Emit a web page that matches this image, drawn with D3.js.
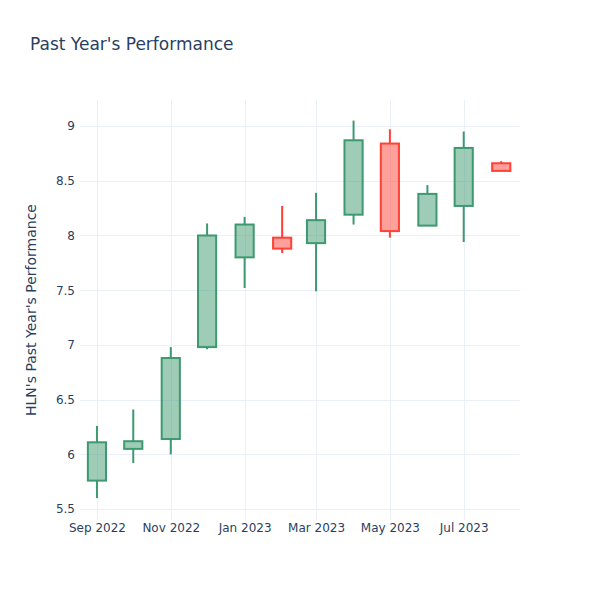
<!DOCTYPE html>
<html><head><meta charset="utf-8">
<script src="https://cdn.jsdelivr.net/npm/d3@7"></script>
<style>body{margin:0;background:#fff;}svg{font-family:"DejaVu Sans",sans-serif;}</style>
</head><body>
<svg id="c" width="600" height="600"></svg>
<script>
const dates = ["2022-09-01","2022-10-01","2022-11-01","2022-12-01","2023-01-01","2023-02-01","2023-03-01","2023-04-01","2023-05-01","2023-06-01","2023-07-01","2023-08-01"];
const opens  = [5.76, 6.05, 6.14, 6.98, 7.80, 7.98, 7.93, 8.19, 8.84, 8.09, 8.27, 8.66];
const highs  = [6.26, 6.41, 6.98, 8.11, 8.17, 8.27, 8.39, 9.05, 8.97, 8.46, 8.95, 8.68];
const lows   = [5.60, 5.92, 6.00, 6.96, 7.52, 7.84, 7.49, 8.10, 7.98, 8.09, 7.94, 8.59];
const closes = [6.11, 6.12, 6.88, 8.00, 8.10, 7.88, 8.14, 8.87, 8.04, 8.38, 8.80, 8.59];
const yTicks = [5.5, 6, 6.5, 7, 7.5, 8, 8.5, 9];
const xTickDates = ["2022-09-01","2022-11-01","2023-01-01","2023-03-01","2023-05-01","2023-07-01"];
const title = "Past Year's Performance";
const yTitle = "HLN's Past Year's Performance";

const parse = d3.utcParse("%Y-%m-%d");
const data = dates.map((d,i)=>({date:parse(d),open:opens[i],high:highs[i],low:lows[i],close:closes[i]}));

const svg = d3.select("#c");
const L=80,R=520,T=100,B=520;
const x = d3.scaleUtc().domain([parse("2022-08-18"), new Date(Date.UTC(2023,7,16,12))]).range([L,R]);
const y = d3.scaleLinear().domain([5.40, 9.238]).range([B,T]);
const txt = "#2a3f5f", grid = "#EBF0F8";

// grid
svg.append("g").selectAll("line").data(yTicks).join("line")
  .attr("x1",L).attr("x2",R).attr("y1",d=>Math.round(y(d))+0.5).attr("y2",d=>Math.round(y(d))+0.5)
  .attr("stroke",grid).attr("stroke-width",1);
svg.append("g").selectAll("line").data(xTickDates.map(parse)).join("line")
  .attr("y1",T).attr("y2",B).attr("x1",d=>Math.round(x(d))+0.5).attr("x2",d=>Math.round(x(d))+0.5)
  .attr("stroke",grid).attr("stroke-width",1);

// axes
const yAxis = d3.axisLeft(y).tickValues(yTicks).tickSize(0).tickPadding(4).tickFormat(d3.format("~g"));
const gy = svg.append("g").attr("transform",`translate(${L-1},0)`).call(yAxis);
gy.select(".domain").remove();
gy.selectAll("text").attr("fill",txt).style("font-size","12px").style("font-family","DejaVu Sans");

const xAxis = d3.axisBottom(x).tickValues(xTickDates.map(parse)).tickSize(0).tickPadding(3).tickFormat(d3.utcFormat("%b %Y"));
const gx = svg.append("g").attr("transform",`translate(0,${B})`).call(xAxis);
gx.select(".domain").remove();
gx.selectAll("text").attr("fill",txt).style("font-size","12px").style("font-family","DejaVu Sans");

// candles
const day = 86400000;
const g = svg.append("g");
data.forEach(d=>{
  const up = d.close >= d.open;
  const line = up ? "#3D9970" : "#FF4136";
  const fill = up ? "rgba(61,153,112,0.5)" : "rgba(255,65,54,0.5)";
  const cx = x(d.date);
  const half = (x(new Date(+d.date + 7.5*day)) - x(new Date(+d.date - 7.5*day)))/2;
  const top = y(Math.max(d.open,d.close)), bot = y(Math.min(d.open,d.close));
  g.append("line").attr("x1",cx).attr("x2",cx).attr("y1",y(d.high)).attr("y2",top).attr("stroke",line).attr("stroke-width",2);
  g.append("line").attr("x1",cx).attr("x2",cx).attr("y1",bot).attr("y2",y(d.low)).attr("stroke",line).attr("stroke-width",2);
  g.append("rect").attr("x",cx-half).attr("y",top).attr("width",2*half).attr("height",Math.max(bot-top,0.5))
    .attr("fill",fill).attr("stroke",line).attr("stroke-width",2);
});

// titles
svg.append("text").attr("x",30).attr("y",50).attr("fill",txt).style("font-size","17px").text(title);
svg.append("text").attr("transform",`translate(36,${(T+B)/2}) rotate(-90)`).attr("text-anchor","middle")
  .attr("fill",txt).style("font-size","14px").text(yTitle);
</script>
</body></html>
